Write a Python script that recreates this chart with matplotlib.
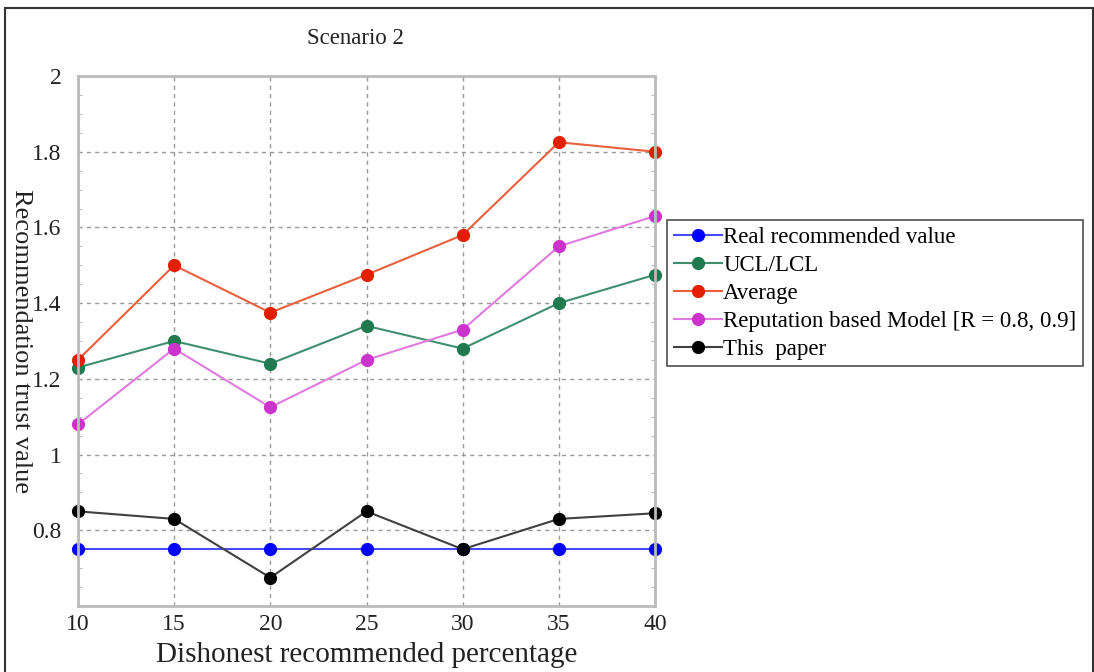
"""Scenario 2 - recommendation trust value vs dishonest recommendation percentage."""
import matplotlib.pyplot as plt
from matplotlib.patches import Rectangle
from matplotlib.ticker import MultipleLocator

plt.rcParams["font.family"] = ["Liberation Serif", "DejaVu Serif"]

pct = [10, 15, 20, 25, 30, 35, 40]
real_value = [0.75, 0.75, 0.75, 0.75, 0.75, 0.75, 0.75]
ucl_lcl = [1.23, 1.30, 1.24, 1.34, 1.28, 1.40, 1.475]
average = [1.25, 1.50, 1.375, 1.475, 1.58, 1.825, 1.80]
reputation = [1.08, 1.28, 1.125, 1.25, 1.33, 1.55, 1.63]
this_paper = [0.85, 0.83, 0.675, 0.85, 0.75, 0.83, 0.845]

series = [
    ("Real recommended value", real_value, "#4a4aff", "#0000ff"),
    ("UCL/LCL", ucl_lcl, "#3f8f6f", "#1f7a4f"),
    ("Average", average, "#e8603c", "#e02000"),
    ("Reputation based Model [R = 0.8, 0.9]", reputation, "#e07ae0", "#cc33cc"),
    ("This  paper", this_paper, "#404040", "#000000"),
]

fig = plt.figure(figsize=(10.94, 6.72), dpi=100)
ax = fig.add_axes([78 / 1094, 1 - 606 / 672, 577 / 1094, 530 / 672])

for label, vals, lc, mc in series:
    ax.plot(pct, vals, color=lc, linewidth=1.5, marker="o", markersize=8.5,
            markerfacecolor=mc, markeredgecolor=mc, label=label, clip_on=False)

ax.set_xlim(10, 40)
ax.set_ylim(0.6, 2.0)
ax.set_xticks(pct)
ax.set_yticks([0.8, 1.0, 1.2, 1.4, 1.6, 1.8, 2.0])
ax.set_yticklabels(["0.8", "1", "1.2", "1.4", "1.6", "1.8", "2"])
ax.yaxis.set_minor_locator(MultipleLocator(0.05))
ax.tick_params(axis="both", which="major", labelsize=17, length=0,
               labelcolor="#222222")
ax.tick_params(axis="y", which="major", pad=12)
ax.tick_params(axis="x", which="major", pad=6)
ax.tick_params(axis="y", which="minor", direction="in", length=3, color="#b0b0b0",
               left=True, right=True)
ax.grid(True, which="major", linestyle=(0, (3, 3)), color="#999999", linewidth=1)
ax.set_axisbelow(True)
for sp in ax.spines.values():
    sp.set_color("#bbbbbb")
    sp.set_linewidth(2)

fig.text(355 / 1094, 1 - 38 / 672, "Scenario 2", fontsize=16.5, color="#222222",
         ha="center", va="center")
ax.set_xlabel("Dishonest recommended percentage", fontsize=21, color="#222222",
              labelpad=5)
ax.set_ylabel("Recommendation trust value", fontsize=19, color="#222222",
              rotation=270, va="center")
ax.yaxis.set_label_coords((21 - 78) / 577, 0.5)

leg = fig.legend(loc="upper left", bbox_to_anchor=(667 / 1094, 1 - 220 / 672),
                 fontsize=16.5, frameon=True, fancybox=False, handlelength=2.1,
                 handletextpad=0.05, borderpad=0.3, labelspacing=0.3,
                 borderaxespad=0)
leg.get_frame().set_edgecolor("#222222")
leg.get_frame().set_linewidth(1.2)

# outer frame around the figure
fig.patches.append(Rectangle((5 / 1094, -0.05), 1088 / 1094, 1.05 - 8 / 672,
                             transform=fig.transFigure, fill=False,
                             edgecolor="#333333", linewidth=1.5))

fig.savefig("out.png", dpi=100)
